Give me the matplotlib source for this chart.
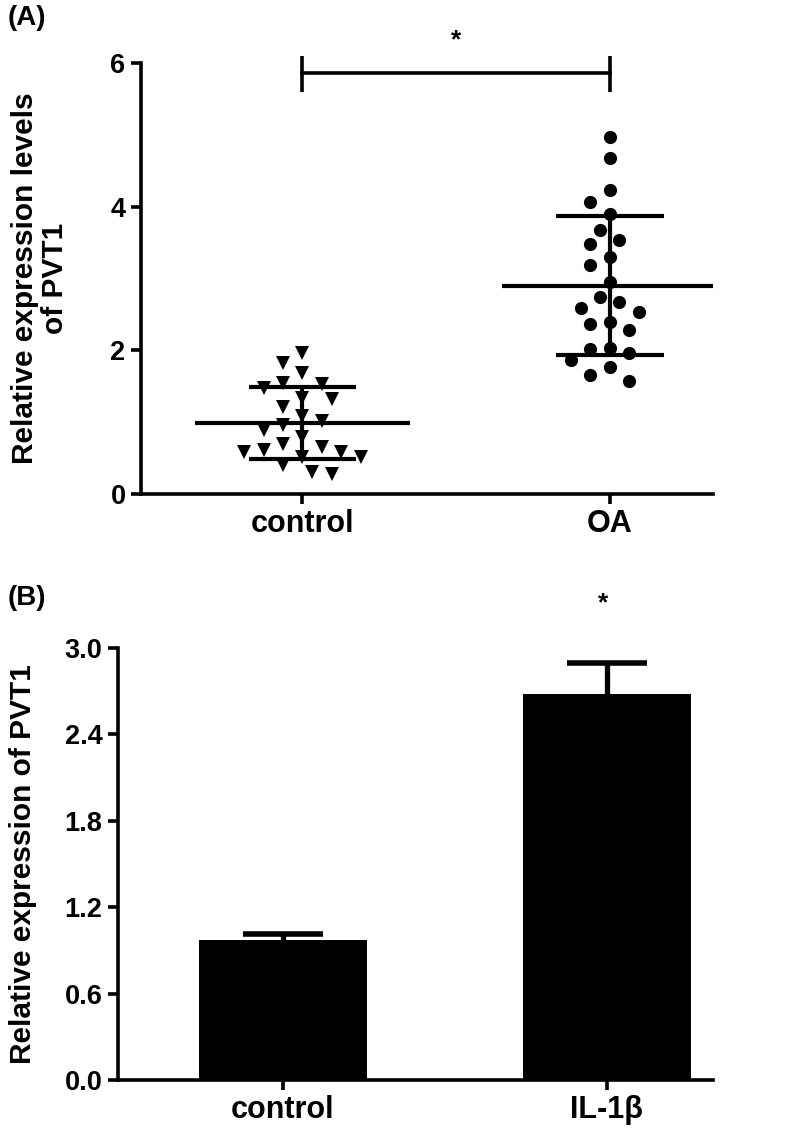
import numpy as np
import matplotlib
matplotlib.use('Agg')
import matplotlib.pyplot as plt

plt.rcParams['font.family'] = ['Liberation Sans', 'DejaVu Sans']
plt.rcParams['font.weight'] = 'bold'

# panel A: individual samples
groups_a = ['control', 'OA']
control_vals = [1.96, 1.83, 1.69, 1.47, 1.53, 1.55, 1.32, 1.34, 1.21, 1.08, 1.01, 0.96,
                0.89, 0.79, 0.69, 0.65, 0.59, 0.58, 0.62, 0.52, 0.51, 0.41, 0.28, 0.30]
oa_vals = [4.97, 4.68, 4.23, 4.06, 3.90, 3.68, 3.48, 3.54, 3.30, 3.19, 2.95, 2.68, 2.75,
           2.59, 2.53, 2.40, 2.37, 2.29, 2.03, 1.97, 2.02, 1.86, 1.77, 1.66, 1.58]
yticks_a = [0, 2, 4, 6]

# panel B: means and errors
groups_b = ['control', 'IL-1β']
bar_vals = [0.97, 2.68]
bar_err = [0.045, 0.215]
yticks_b = [0.0, 0.6, 1.2, 1.8, 2.4, 3.0]

LW = 2.6


def swarm(ax, vals, center, step_px=9.7, min_px=17.0):
    # simple beeswarm in pixel space
    bb = ax.get_window_extent()
    x0, x1 = ax.get_xlim()
    y0, y1 = ax.get_ylim()
    sx = bb.width / (x1 - x0)
    sy = bb.height / (y1 - y0)
    slots = [0]
    for i in range(1, 20):
        slots += [-i, i]
    placed = []
    xs = []
    for v in vals:
        py = v * sy
        for k in slots:
            px = k * step_px
            if all((px - qx) ** 2 + (py - qy) ** 2 >= min_px ** 2 for qx, qy in placed):
                break
        placed.append((px, py))
        xs.append(center + px / sx)
    return np.array(xs)


fig = plt.figure(figsize=(7.91, 11.3), dpi=100)

# ---------------- (A) ----------------
axA = fig.add_axes([0.178, 0.5628, 0.723, 0.3814])
axA.set_xlim(-0.526, 1.335)
axA.set_ylim(0, 6)

for i, (vals, mk, ms) in enumerate([(control_vals, 'v', 9.5), (oa_vals, 'o', 9.5)]):
    vals = np.array(vals)
    order = np.argsort(-vals)
    xs = np.empty(len(vals))
    xs[order] = swarm(axA, vals[order], i)
    axA.plot(xs, vals, linestyle='none', marker=mk, ms=ms, color='black',
             markeredgewidth=0, zorder=3)
    m = vals.mean()
    sd = vals.std(ddof=1)
    axA.hlines(m, i - 0.35, i + 0.35, color='black', lw=LW + 0.4, zorder=4)
    axA.vlines(i, m - sd, m + sd, color='black', lw=LW + 0.4, zorder=4)
    axA.hlines([m - sd, m + sd], i - 0.175, i + 0.175, color='black', lw=LW + 0.4, zorder=4)

# significance bracket
axA.plot([0, 1], [5.86, 5.86], color='black', lw=LW, clip_on=False)
axA.vlines([0, 1], 5.6, 6.1, color='black', lw=LW, clip_on=False)
axA.text(0.5, 6.32, '*', ha='center', va='center', fontsize=19, fontweight='bold')

axA.set_xticks([0, 1])
axA.set_xticklabels(groups_a)
axA.set_yticks(yticks_a)
axA.set_ylabel('Relative expression levels\nof PVT1', fontsize=21.5, fontweight='bold',
               labelpad=30, linespacing=1.1)

# ---------------- (B) ----------------
axB = fig.add_axes([0.149, 0.0442, 0.752, 0.3826])
axB.set_xlim(-0.509, 1.327)
axB.set_ylim(0, 3.0)
xb = np.arange(len(groups_b))
axB.bar(xb, bar_vals, width=0.519, color='black', zorder=2)
tops = np.array(bar_vals) + np.array(bar_err)
axB.vlines(xb, bar_vals, tops, color='black', lw=LW + 1.2, zorder=3)
axB.hlines(tops, xb - 0.123, xb + 0.123, color='black', lw=LW + 1.4, zorder=3)
axB.text(xb[1] - 0.01, 3.31, '*', ha='center', va='center', fontsize=19, fontweight='bold')

axB.set_xticks(xb)
axB.set_xticklabels(groups_b)
axB.set_yticks(yticks_b)
axB.set_yticklabels([f'{t:.1f}' for t in yticks_b])
axB.set_ylabel('Relative expression of PVT1', fontsize=21.5, fontweight='bold', labelpad=20)

for ax in (axA, axB):
    for s in ('top', 'right'):
        ax.spines[s].set_visible(False)
    for s in ('left', 'bottom'):
        ax.spines[s].set_linewidth(LW)
    ax.tick_params(width=LW, length=7, pad=4)
    ax.tick_params(axis='y', labelsize=19.5)
    ax.tick_params(axis='x', labelsize=22)
    for lab in ax.get_xticklabels() + ax.get_yticklabels():
        lab.set_fontweight('bold')

fig.text(8 / 791, 1 - 18 / 1130, '(A)', fontsize=20, fontweight='bold', va='center', ha='left')
fig.text(8 / 791, 1 - 598 / 1130, '(B)', fontsize=20, fontweight='bold', va='center', ha='left')

fig.savefig('out.png', dpi=100)
